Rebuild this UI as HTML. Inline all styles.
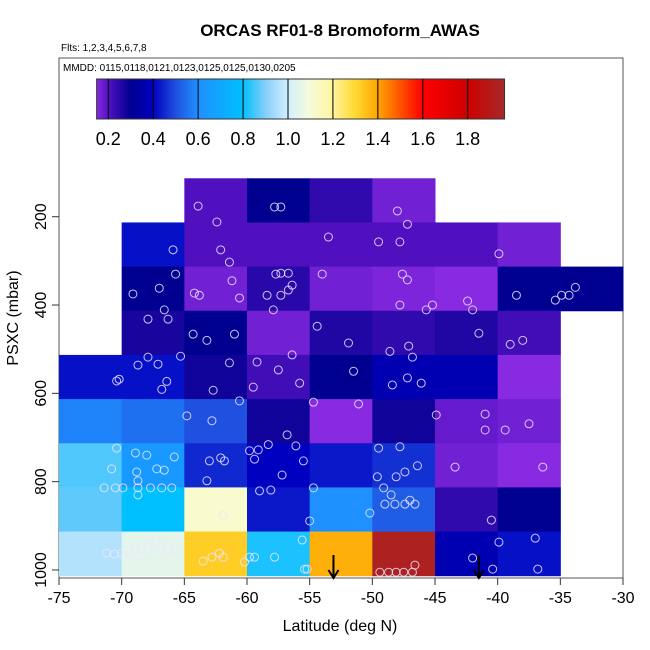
<!DOCTYPE html>
<html><head><meta charset="utf-8"><style>
body{margin:0;background:#fff;}
svg{display:block;font-family:"Liberation Sans",sans-serif;}
</style></head><body>
<svg id="chart" width="650" height="650">
<text x="340" y="36" text-anchor="middle" font-size="17" font-weight="bold">ORCAS RF01-8 Bromoform_AWAS</text>
<text x="61" y="51" font-size="10">Flts: 1,2,3,4,5,6,7,8</text>
<rect x="59" y="58" width="564" height="520" fill="none" stroke="#555" stroke-width="1"/>
<text x="63" y="71" font-size="10">MMDD: 0115,0118,0121,0123,0125,0125,0130,0205</text>
<defs><linearGradient id="cbg" x1="0" x2="1" y1="0" y2="0"></linearGradient></defs>
<g id="cells"></g><g id="pts"></g><g id="cbar"></g><g id="axes"></g>
<text transform="translate(18,318) rotate(-90)" text-anchor="middle" font-size="16">PSXC (mbar)</text>
<text x="340" y="631" text-anchor="middle" font-size="16">Latitude (deg N)</text>
</svg>
<script>
const latEdges=[-75,-70,-65,-60,-55,-50,-45,-40,-35,-30];
const pTop=[113,213,313,413,513,613,713,813,913];
const cellValues=[
[null,null,0.2,0.3,0.24,0.17,null,null,null],
[null,0.42,0.2,0.2,0.2,0.2,0.2,0.17,null],
[null,0.3,0.17,0.25,0.17,0.16,0.15,0.3,0.3],
[null,0.27,0.3,0.17,0.26,0.24,0.26,0.22,null],
[0.42,0.42,0.28,0.22,0.3,0.37,0.37,0.15,null],
[0.58,0.55,0.5,0.28,0.15,0.28,0.18,0.17,null],
[0.86,0.64,0.45,0.4,0.43,0.46,0.17,0.15,null],
[0.87,0.8,1.12,0.43,0.6,0.52,0.24,0.3,null],
[0.96,1.05,1.32,0.82,1.38,1.93,0.37,0.42,null]];
const ptLat=[-63.9,-62.4,-57.8,-57.3,-48.0,-47.2,-65.9,-62.1,-61.4,-53.5,-49.5,-47.8,-39.9,-65.7,-61.2,-67.0,-69.1,-66.6,-67.9,-66.3,-64.2,-63.8,-60.6,-57.7,-57.3,-56.7,-58.4,-57.3,-56.7,-56.4,-57.9,-54.0,-47.6,-47.2,-47.8,-45.7,-45.2,-42.4,-42.0,-38.5,-35.4,-34.9,-34.3,-33.8,-54.4,-48.6,-47.1,-41.5,-39.0,-38.0,-64.3,-63.2,-61.0,-67.9,-65.3,-67.1,-68.7,-70.2,-70.4,-66.8,-66.4,-62.7,-61.4,-59.2,-59.5,-57.5,-56.4,-55.8,-51.9,-51.5,-46.8,-47.2,-46.1,-48.4,-44.9,-41.0,-39.4,-37.5,-54.7,-64.8,-62.8,-60.6,-58.3,-56.8,-56.1,-51.1,
-70.4,-70.8,-71.4,-70.5,-69.9,-68.9,-68.0,-65.8,-68.8,-67.2,-66.6,-68.7,-67.7,-66.8,-66.0,-68.7,-68.7,-63.0,-62.1,-61.8,-63.2,-61.9,-59.8,-59.1,-59.4,-55.5,-57.2,-54.7,-55.0,-59.0,-58.1,-49.5,-47.8,-48.1,-49.6,-47.4,-49.1,-48.5,-46.4,-50.2,-49.0,-48.2,-47.4,-46.6,-47.0,-40.5,-43.4,-36.4,-41.0,
-71.2,-70.6,-70.0,-69.3,-68.9,-68.4,-67.9,-67.3,-66.9,-66.3,-65.7,-68.5,-63.5,-62.8,-62.2,-61.9,-59.8,-59.4,-60.2,-57.8,-55.4,-55.2,-55.6,-42.0,-40.4,-39.9,-37.0,-36.8,-49.4,-48.7,-48.1,-47.5,-46.8,-46.6];
const ptP=[176,212,178,178,187,217,275,275,303,246,257,257,284,330,345,362,375,411,432,432,373,378,384,330,328,328,378,378,366,355,411,330,330,343,400,411,400,391,411,378,389,378,378,360,448,505,493,464,489,480,466,480,466,518,516,534,536,568,572,591,573,593,531,529,586,547,513,577,486,550,518,565,577,581,649,647,683,669,620,651,662,617,716,694,719,624,
724,771,814,814,814,735,740,744,778,771,774,814,814,814,814,798,830,753,746,753,798,876,730,728,749,753,785,814,889,821,819,724,721,789,789,778,814,830,764,871,851,851,851,851,842,887,767,767,683,
962,964,962,964,950,955,946,934,946,957,955,968,980,971,962,971,971,971,982,971,998,998,932,973,998,937,928,998,1005,1005,1005,1005,1005,989];
const arrowLat=[-53.1,-41.5];
const cbTicks=[0.2,0.4,0.6,0.8,1.0,1.2,1.4,1.6,1.8];
const palV=[0.148,0.2,0.3,0.4,0.5,0.6,0.8,0.9,1.0,1.1,1.2,1.3,1.4,1.6,1.8,1.964];
const palC=["#8a2be2","#5010c0","#000090","#0000c0","#2050e0","#1e90ff","#00bfff","#87cefa","#d0f0ff","#f8fcd8","#fff4a0","#ffd830","#ffa500","#ff0000","#cd0000","#a52a2a"];
const NS="http://www.w3.org/2000/svg";
const X=lat=>59+(lat+75)*564/45;
const Y=p=>216.7+(p-200)*0.4416;
const CB=v=>108.3+(v-0.2)*(467.7-108.3)/1.6;
function hex(c){return [1,3,5].map(i=>parseInt(c.substr(i,2),16));}
function col(v){
 if(v<=palV[0])return palC[0];
 for(let i=1;i<palV.length;i++){if(v<=palV[i]){const t=(v-palV[i-1])/(palV[i]-palV[i-1]);const a=hex(palC[i-1]),b=hex(palC[i]);return "rgb("+a.map((x,k)=>Math.round(x+(b[k]-x)*t)).join(",")+")";}}
 return palC[palC.length-1];}
function mk(t,at,parent){const e=document.createElementNS(NS,t);for(const k in at)e.setAttribute(k,at[k]);parent.appendChild(e);return e;}
const cells=document.getElementById('cells');
cellValues.forEach((row,r)=>row.forEach((v,c)=>{if(v===null)return;
 const x0=X(latEdges[c]),x1=X(latEdges[c+1]),y0=Y(pTop[r]),y1=Y(pTop[r]+100);
 const e=mk('rect',{x:x0,y:y0,width:x1-x0+0.5,height:y1-y0+0.5,fill:col(v)},cells);
 
 }));
const pts=document.getElementById('pts');
ptLat.forEach((la,i)=>{const e=mk('circle',{cx:X(la),cy:Y(ptP[i]),r:4,fill:'none',stroke:'rgba(235,230,255,0.85)','stroke-width':1},pts);
 
 });
arrowLat.forEach(la=>{const x=X(la);const g=mk('g',{},pts);
 
 
 mk('line',{x1:x,y1:555,x2:x,y2:577,stroke:'#000','stroke-width':2},g);
 mk('path',{d:`M${x-5},570 L${x},578 L${x+5},570`,fill:'none',stroke:'#000','stroke-width':2},g);});
const gr=document.getElementById('cbg');
for(let i=0;i<=60;i++){const v=0.148+(1.964-0.148)*i/60;mk('stop',{offset:(i/60),'stop-color':col(v)},gr);}
const cb=document.getElementById('cbar');
const cbr=mk('rect',{x:CB(0.148),y:79,width:CB(1.964)-CB(0.148),height:40,fill:'url(#cbg)',stroke:'#333','stroke-width':1},cb);


cbTicks.forEach(v=>{const x=CB(v);mk('line',{x1:x,y1:79,x2:x,y2:119,stroke:'#000','stroke-width':1},cb);
 const t=mk('text',{x:x,y:145,'text-anchor':'middle','font-size':18},cb);t.textContent=v.toFixed(1);
 
 });
const ax=document.getElementById('axes');
const xTicks=[-75,-70,-65,-60,-55,-50,-45,-40,-35,-30];
const yTicks=[200,400,600,800,1000];
xTicks.forEach(v=>{const x=X(v);mk('line',{x1:x,y1:578,x2:x,y2:585,stroke:'#333'},ax);
 const t=mk('text',{x:x,y:603,'text-anchor':'middle','font-size':16},ax);t.textContent=v;
 
 });
yTicks.forEach(v=>{const y=Y(v);mk('line',{x1:52,y1:y,x2:59,y2:y,stroke:'#333'},ax);
 const t=mk('text',{transform:`translate(46,${y}) rotate(-90)`,'text-anchor':'middle','font-size':16},ax);t.textContent=v;
 
 });
</script>
</body></html>
